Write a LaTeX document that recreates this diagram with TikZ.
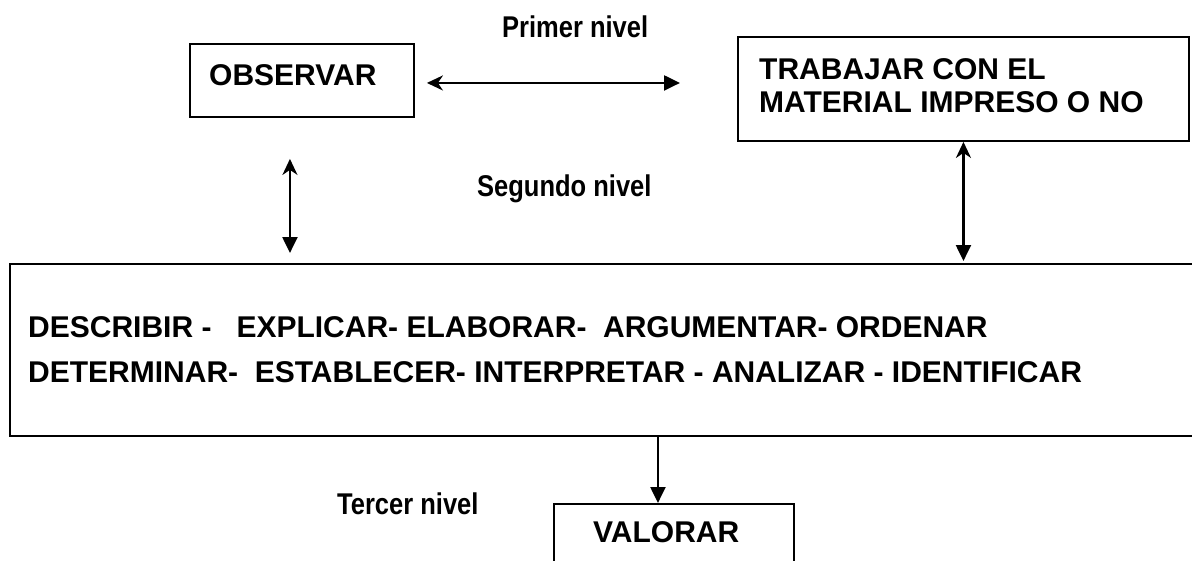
\documentclass[tikz,border=0pt]{standalone}
\usepackage{fontspec}
\setmainfont{Liberation Sans}
\newfontfamily\narrowfont[FakeStretch=0.85]{Liberation Sans}
\usetikzlibrary{arrows.meta,calc}
\begin{document}
\begin{tikzpicture}[x=1pt,y=-1pt,
  box/.style={draw,line width=1.9pt,inner sep=0pt,anchor=north west},
  boxtext/.style={anchor=base west,inner sep=0pt,font=\fontsize{30}{35}\selectfont\bfseries},
  lvl/.style={anchor=base west,inner sep=0pt,font=\narrowfont\fontsize{30}{35}\selectfont\bfseries},
  arr/.style={line width=2.2pt,{Stealth[length=16pt,width=15pt,inset=5pt]}-{Triangle[length=16pt,width=15pt]}},
  darr/.style={line width=2.2pt,-{Triangle[length=16pt,width=15pt]}}]
\useasboundingbox (0,0) rectangle (1192,560);
\clip (0,0) rectangle (1192,560);
\fill[white] (0,0) rectangle (1192,560);
% boxes
\node[box,minimum width=224pt,minimum height=73pt] (obs) at (189,43) {};
\node[box,minimum width=451pt,minimum height=104pt] (trab) at (737,36) {};
\node[box,minimum width=1196pt,minimum height=172pt] (big) at (9,263) {};
\node[box,minimum width=240pt,minimum height=80pt] (val) at (553,503) {};
% texts
\node[boxtext] (tobs) at (209,85) {OBSERVAR};
\node[boxtext] (ttrab1) at (759,79) {TRABAJAR CON EL};
\node[boxtext] (ttrab2) at (759,112) {MATERIAL IMPRESO O NO};
\node[boxtext] (tbig1) at (28,337) {DESCRIBIR -\ \ \ EXPLICAR- ELABORAR-\ \ ARGUMENTAR- ORDENAR};
\node[boxtext] (tbig2) at (28,382) {DETERMINAR-\ \ ESTABLECER- INTERPRETAR - ANALIZAR - IDENTIFICAR};
\node[boxtext] (tval) at (593,542) {VALORAR};
% level labels
\node[lvl] (l1) at (502,37) {Primer nivel};
\node[lvl] (l2) at (477,196) {Segundo nivel};
\node[lvl] (l3) at (337,514) {Tercer nivel};
% connectors
\draw[arr] ($(obs.east)+(12,2.5)$) -- ($(trab.west)+(-57,-6)$);
\draw[arr] ($(obs.south)+(-12,41)$) -- ($(obs.south |- big.north)+(-12,-10)$);
\draw[arr] ($(trab.south)+(0,0)$) -- ($(trab.south |- big.north)+(0,-2)$);
\draw[darr] ($(big.south -| val.north)+(-16,0)$) -- ($(val.north)+(-16,0)$);
\end{tikzpicture}
\end{document}
